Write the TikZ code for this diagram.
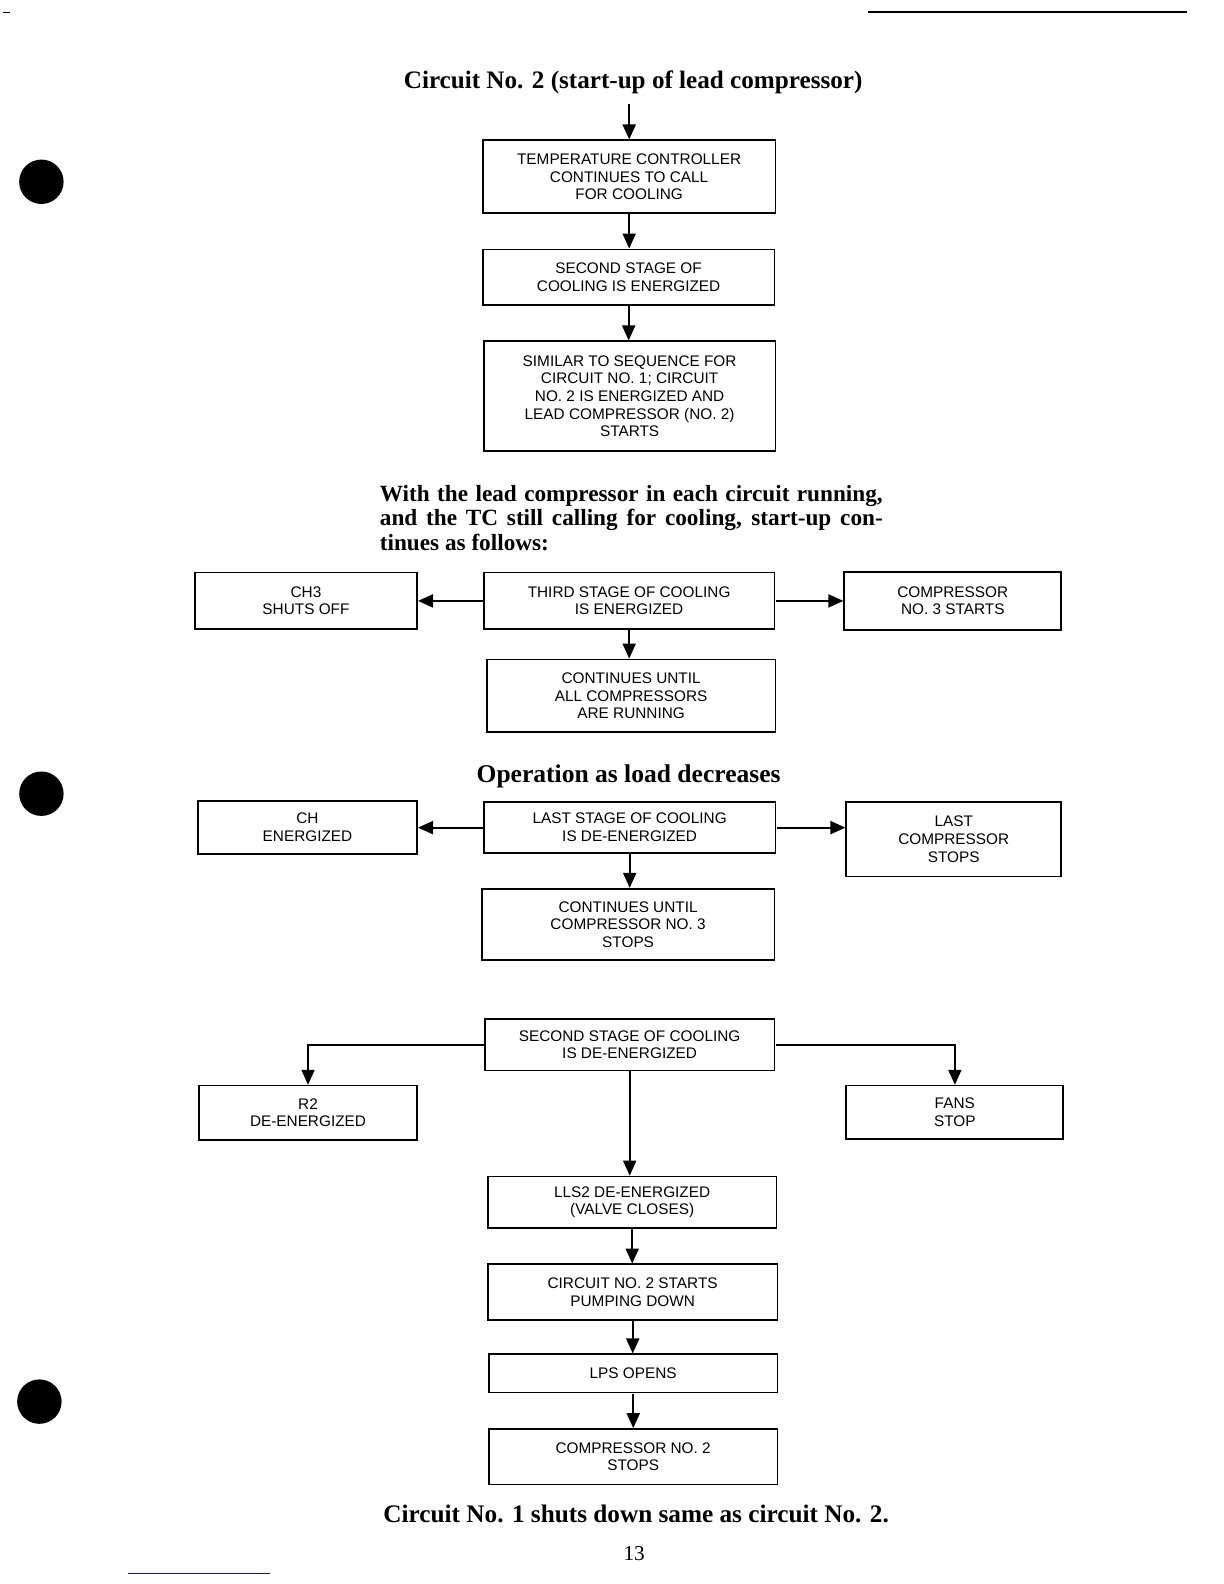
\documentclass[tikz,border=0pt]{standalone}
\usepackage{fontspec}
\setmainfont{Liberation Serif}
\setsansfont{Liberation Sans}
\usetikzlibrary{arrows.meta}
\definecolor{scanblue}{RGB}{20,20,160}
\tikzset{
  box/.style={draw, line width=1.8pt, align=center, inner sep=2pt,
    font=\sffamily\fontsize{15.2}{17.5}\selectfont},
  conn/.style={line width=2pt, -{Triangle[width=13pt,length=15pt]}},
  heading/.style={font=\bfseries\fontsize{24.9}{29}\selectfont, inner sep=0pt},
  hole/.style={fill=black},
}
\begin{document}
\begin{tikzpicture}[x=1pt,y=-1pt,scale=1.0098,transform shape]
\useasboundingbox (0,0) rectangle (1212.12,1568.63);
% page marks
\draw[line width=1.2pt] (3,12) -- (10,12);
\draw[line width=1.6pt] (860,12) -- (1175,12);
\fill[hole] (41,180) circle (22);
\fill[hole] (41,786) circle (22);
\fill[hole] (39,1388) circle (22);
\draw[scanblue, line width=1pt] (127,1558) -- (267,1558);
% headings
\node[heading] (title) at (627,81.5) {Circuit No. 2 (start-up of lead compressor)};
\node[font=\bfseries\fontsize{23}{24}\selectfont, inner sep=0pt, align=left, anchor=north west] (para) at (376,480.5)
 {\makebox[498pt][s]{With the lead compressor in each circuit running,}\\
  \makebox[498pt][s]{and the TC still calling for cooling, start-up con-}\\
  tinues as follows:};
\node[heading, font=\bfseries\fontsize{25.3}{29}\selectfont] (optitle) at (622.5,768.5) {Operation as load decreases};
\node[heading, font=\bfseries\fontsize{25}{29}\selectfont] (endnote) at (630,1499) {Circuit No. 1 shuts down same as circuit No. 2.};
\node[font=\fontsize{21}{24}\selectfont, inner sep=0pt] (pagenum) at (628,1538) {13};
% first column
\coordinate (start) at (623,103);
\node[box, minimum width=290, minimum height=72] (tc) at (623,175) {TEMPERATURE CONTROLLER\\CONTINUES TO CALL\\FOR COOLING};
\node[box, minimum width=289, minimum height=55] (s2) at (622.5,274.5) {SECOND STAGE OF\\COOLING IS ENERGIZED};
\node[box, minimum width=289, minimum height=109] (sim) at (623.5,392.5) {SIMILAR TO SEQUENCE FOR\\CIRCUIT NO. 1; CIRCUIT\\NO. 2 IS ENERGIZED AND\\LEAD COMPRESSOR (NO. 2)\\STARTS};
% start-up continues
\node[box, minimum width=220, minimum height=56] (ch3) at (303,595) {CH3\\SHUTS OFF};
\node[box, minimum width=288, minimum height=56] (s3) at (623,595) {THIRD STAGE OF COOLING\\IS ENERGIZED};
\node[box, minimum width=215, minimum height=57] (c3) at (943.5,595) {COMPRESSOR\\NO. 3 STARTS};
\node[box, minimum width=286, minimum height=72] (cu1) at (625,689) {CONTINUES UNTIL\\ALL COMPRESSORS\\ARE RUNNING};
% load decreases
\node[box, minimum width=217, minimum height=52] (ch) at (304.5,819.5) {CH\\ENERGIZED};
\node[box, minimum width=289, minimum height=51] (ls) at (623.5,819.5) {LAST STAGE OF COOLING\\IS DE-ENERGIZED};
\node[box, minimum width=213, minimum height=74] (lcs) at (944.5,831) {LAST\\COMPRESSOR\\STOPS};
\node[box, minimum width=290, minimum height=71] (cu2) at (622,915.5) {CONTINUES UNTIL\\COMPRESSOR NO. 3\\STOPS};
% shut down
\node[box, minimum width=287, minimum height=51] (s2d) at (623.5,1034.5) {SECOND STAGE OF COOLING\\IS DE-ENERGIZED};
\node[box, minimum width=216, minimum height=54] (r2) at (305,1102) {R2\\DE-ENERGIZED};
\node[box, minimum width=215, minimum height=53] (fans) at (945.5,1101.5) {FANS\\STOP};
\node[box, minimum width=286, minimum height=51] (lls) at (626,1190.5) {LLS2 DE-ENERGIZED\\(VALVE CLOSES)};
\node[box, minimum width=287, minimum height=55] (cp) at (626.5,1279.5) {CIRCUIT NO. 2 STARTS\\PUMPING DOWN};
\node[box, minimum width=286, minimum height=38] (lps) at (627,1360) {LPS OPENS};
\node[box, minimum width=286, minimum height=55] (c2s) at (627,1442.5) {COMPRESSOR NO. 2\\STOPS};
% connectors
\draw[conn] (start) -- (start |- tc.north);
\draw[conn] (tc.south) -- (tc.south |- s2.north);
\draw[conn] (s2.south) -- (s2.south |- sim.north);
\draw[conn] (s3.west) -- (ch3.east |- s3.west);
\draw[conn] (s3.east) -- (c3.west |- s3.east);
\draw[conn] (s3.south) -- (s3.south |- cu1.north);
\draw[conn] (ls.west) -- (ch.east |- ls.west);
\draw[conn] (ls.east) -- (lcs.west |- ls.east);
\draw[conn] (ls.south) -- (ls.south |- cu2.north);
\draw[conn] (s2d.west) -| (r2.north);
\draw[conn] (s2d.east) -| (fans.north);
\draw[conn] (s2d.south) -- (s2d.south |- lls.north);
\draw[conn] (lls.south) -- (lls.south |- cp.north);
\draw[conn] (cp.south) -- (cp.south |- lps.north);
\draw[conn] (lps.south) -- (lps.south |- c2s.north);
\end{tikzpicture}
\end{document}
